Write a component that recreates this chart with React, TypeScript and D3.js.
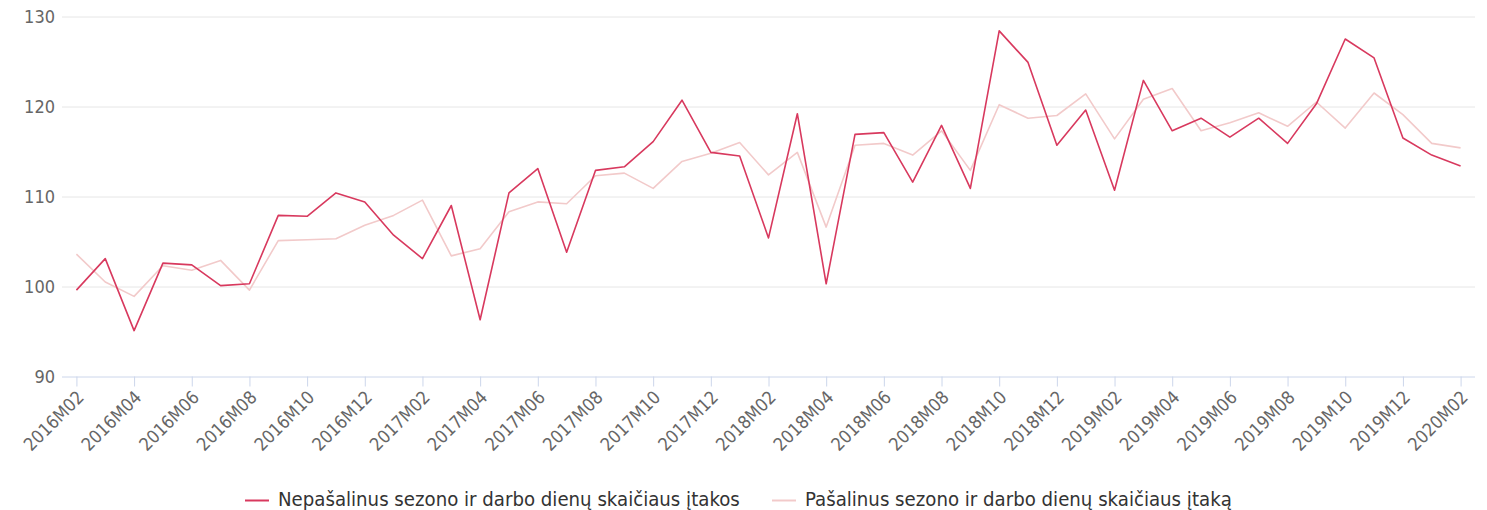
import * as React from "react"
import * as d3 from "d3"

const months = [
  "2016M02", "2016M03", "2016M04", "2016M05", "2016M06", "2016M07", "2016M08", "2016M09", "2016M10", "2016M11", "2016M12",
  "2017M01", "2017M02", "2017M03", "2017M04", "2017M05", "2017M06", "2017M07", "2017M08", "2017M09", "2017M10", "2017M11", "2017M12",
  "2018M01", "2018M02", "2018M03", "2018M04", "2018M05", "2018M06", "2018M07", "2018M08", "2018M09", "2018M10", "2018M11", "2018M12",
  "2019M01", "2019M02", "2019M03", "2019M04", "2019M05", "2019M06", "2019M07", "2019M08", "2019M09", "2019M10", "2019M11", "2019M12",
  "2020M01", "2020M02",
]

const notAdjusted = [
  99.6, 103.1, 95.1, 102.6, 102.4, 100.1, 100.3, 107.9, 107.8, 110.4, 109.4,
  105.7, 103.1, 109.0, 96.3, 110.4, 113.1, 103.8, 112.9, 113.3, 116.1, 120.7, 114.9,
  114.5, 105.4, 119.2, 100.3, 116.9, 117.1, 111.6, 117.9, 110.9, 128.4, 124.9, 115.7,
  119.6, 110.7, 122.9, 117.3, 118.7, 116.6, 118.7, 115.9, 120.3, 127.5, 125.4, 116.5,
  114.6, 113.4,
]

const adjusted = [
  103.6, 100.5, 98.9, 102.3, 101.8, 102.9, 99.6, 105.1, 105.2, 105.3, 106.8,
  107.9, 109.6, 103.4, 104.2, 108.3, 109.4, 109.2, 112.3, 112.6, 110.9, 113.9, 114.8,
  116.0, 112.4, 114.9, 106.6, 115.7, 115.9, 114.6, 117.3, 112.9, 120.2, 118.7, 119.0,
  121.4, 116.4, 120.8, 122.0, 117.3, 118.2, 119.3, 117.8, 120.5, 117.6, 121.5, 119.1,
  115.9, 115.4,
]

const yTicks = [90, 100, 110, 120, 130]

const seriesNames = [
  "Nepašalinus sezono ir darbo dienų skaičiaus įtakos",
  "Pašalinus sezono ir darbo dienų skaičiaus įtaką",
]
const seriesColors = ["#d8395e", "#f2caca"]

const font = "'DejaVu Sans Condensed', 'DejaVu Sans', sans-serif"

function render(svgRef: React.RefObject<SVGSVGElement>) {
  const width = 1487
  const height = 510
  const margin = { top: 16.5, right: 12, bottom: 133.5, left: 62 }
  const w = width - margin.left - margin.right
  const h = height - margin.top - margin.bottom

  const svg = d3.select(svgRef.current).attr("width", width).attr("height", height)
  svg.selectAll("*").remove()
  const g = svg.append("g").attr("transform", `translate(${margin.left},${margin.top})`)

  const x = d3.scalePoint<string>().domain(months).range([0, w]).padding(0.5)
  const y = d3.scaleLinear().domain([90, 130]).range([h, 0])

  // grid
  g.append("g")
    .selectAll("line")
    .data(yTicks.slice(1))
    .join("line")
    .attr("x1", 0)
    .attr("x2", w)
    .attr("y1", (d) => Math.round(y(d)) + 0.5)
    .attr("y2", (d) => Math.round(y(d)) + 0.5)
    .attr("stroke", "#e6e6e6")

  // y labels
  g.append("g")
    .selectAll("text")
    .data(yTicks)
    .join("text")
    .attr("x", -7)
    .attr("y", (d) => y(d) + 6)
    .attr("text-anchor", "end")
    .attr("font-size", "18px")
    .attr("fill", "#666")
    .text((d) => d)

  // x axis
  const xAxis = g
    .append("g")
    .attr("transform", `translate(0, ${h})`)
    .call(
      d3
        .axisBottom(x)
        .tickValues(months.filter((_d, i) => i % 2 === 0))
        .tickSize(10)
        .tickSizeOuter(0)
    )
  xAxis.select(".domain").attr("stroke", "#ccd6eb").attr("d", `M0,0.5H${w}`)
  xAxis.selectAll(".tick line").attr("stroke", "#ccd6eb")
  xAxis
    .selectAll(".tick text")
    .attr("font-size", "18px")
    .attr("font-family", font)
    .attr("fill", "#666")
    .attr("text-anchor", "end")
    .attr("dy", 0)
    .attr("y", 0)
    .attr("transform", "translate(8, 22) rotate(-45)")

  // lines
  const line = d3
    .line<number>()
    .x((_d, i) => x(months[i]) as number)
    .y((d) => y(d))

  const all = [adjusted, notAdjusted]
  const cols = [seriesColors[1], seriesColors[0]]
  g.append("g")
    .selectAll("path")
    .data(all)
    .join("path")
    .attr("d", (d) => line(d))
    .attr("fill", "none")
    .attr("stroke", (_d, i) => cols[i])
    .attr("stroke-width", 1.6)
    .attr("stroke-linejoin", "round")

  // legend
  const legendX = [245, 772]
  const legend = svg
    .append("g")
    .selectAll("g")
    .data(seriesNames)
    .join("g")
    .attr("transform", (_d, i) => `translate(${legendX[i]}, 500.5)`)
  legend
    .append("line")
    .attr("x1", 0)
    .attr("x2", 24)
    .attr("y1", 0)
    .attr("y2", 0)
    .attr("stroke", (_d, i) => seriesColors[i])
    .attr("stroke-width", 2)
  legend
    .append("text")
    .attr("x", 33)
    .attr("y", 5.5)
    .attr("font-size", "20.2px")
    .attr("fill", "#333")
    .text((d) => d)
}

export default function App(): React.JSX.Element {
  const svg = React.useRef<SVGSVGElement>(null)

  React.useEffect(() => {
    render(svg)
  }, [])

  return (
    <svg
      ref={svg}
      style={{ position: "absolute", left: 0, top: 0, fontFamily: font }}
    ></svg>
  )
}
